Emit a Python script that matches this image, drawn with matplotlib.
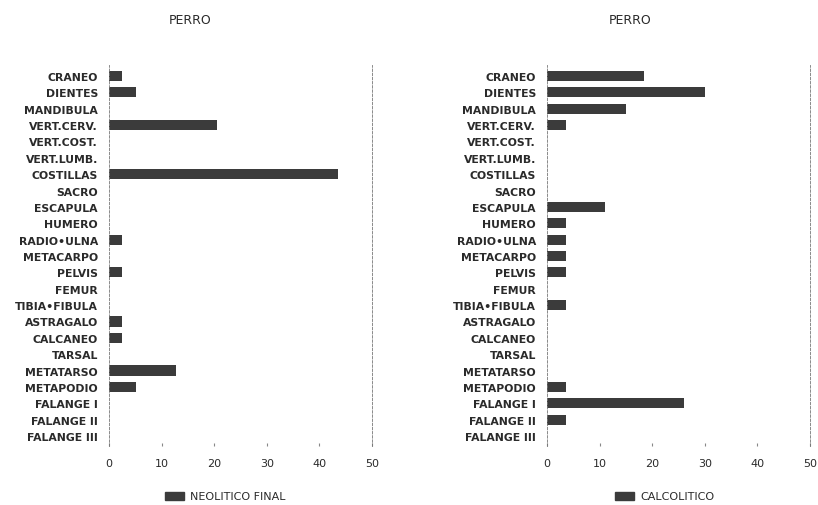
import numpy as np
import matplotlib
matplotlib.use("Agg")
import matplotlib.pyplot as plt
from matplotlib.patches import Rectangle

# %%
huesos = ['CRANEO', 'DIENTES', 'MANDIBULA', 'VERT.CERV.', 'VERT.COST.',
          'VERT.LUMB.', 'COSTILLAS', 'SACRO', 'ESCAPULA', 'HUMERO',
          'RADIO\u2022ULNA', 'METACARPO', 'PELVIS', 'FEMUR', 'TIBIA\u2022FIBULA',
          'ASTRAGALO', 'CALCANEO', 'TARSAL', 'METATARSO', 'METAPODIO',
          'FALANGE I', 'FALANGE II', 'FALANGE III']
neolitico = [2.5, 5.1, 0, 20.5, 0, 0, 43.6, 0, 0, 0, 2.5, 0, 2.5, 0, 0,
             2.5, 2.5, 0, 12.8, 5.1, 0, 0, 0]
calcolitico = [18.5, 30, 15, 3.6, 0, 0, 0, 0, 11.1, 3.6, 3.6, 3.6, 3.6, 0,
               3.6, 0, 0, 0, 0, 3.6, 26, 3.6, 0]
xticks = [0, 10, 20, 30, 40, 50]

series = [('PERRO', neolitico, 'NEOLITICO FINAL'),
          ('PERRO', calcolitico, 'CALCOLITICO')]
bar_col = '#3b3b3b'
txt_col = '#2a2a2a'

# %%
fig = plt.figure(figsize=(8.18, 5.06), dpi=100)
lefts = [109 / 818, 547 / 818]
title_x = [190 / 818, 630 / 818]
legend_x = [165 / 818, 615 / 818]
y = np.arange(len(huesos))

for i, (title, vals, name) in enumerate(series):
    ax = fig.add_axes([lefts[i], 1 - 446.8 / 506, 263 / 818, 381.3 / 506])
    ax.barh(y, vals, height=0.62, color=bar_col, edgecolor='none')
    ax.set_xlim(0, 50)
    ax.set_ylim(len(huesos) - 1 + 0.6, -0.7)
    ax.set_yticks(y)
    ax.set_yticklabels(huesos, fontsize=7.8, fontweight='bold', color=txt_col)
    ax.set_xticks(xticks)
    ax.set_xticklabels([str(t) for t in xticks], fontsize=8, color=txt_col)
    ax.tick_params(axis='y', length=0, pad=8)
    ax.tick_params(axis='x', direction='in', length=2.5, width=0.8,
                   color='#888888', pad=9)
    for s in ['top', 'bottom']:
        ax.spines[s].set_visible(False)
    for s in ['left', 'right']:
        ax.spines[s].set_linestyle((0, (3, 2)))
        ax.spines[s].set_linewidth(0.6)
        ax.spines[s].set_color('#777777')
    fig.text(title_x[i], 1 - 20 / 506, title, ha='center', va='center',
             fontsize=9, color=txt_col)
    fig.patches.append(Rectangle((legend_x[i], 1 - 501 / 506), 19 / 818, 8 / 506,
                                 transform=fig.transFigure, color=bar_col))
    fig.text(legend_x[i] + 25 / 818, 1 - 497 / 506, name, ha='left',
             va='center', fontsize=8, color=txt_col)

fig.savefig('out.png', dpi=100)
